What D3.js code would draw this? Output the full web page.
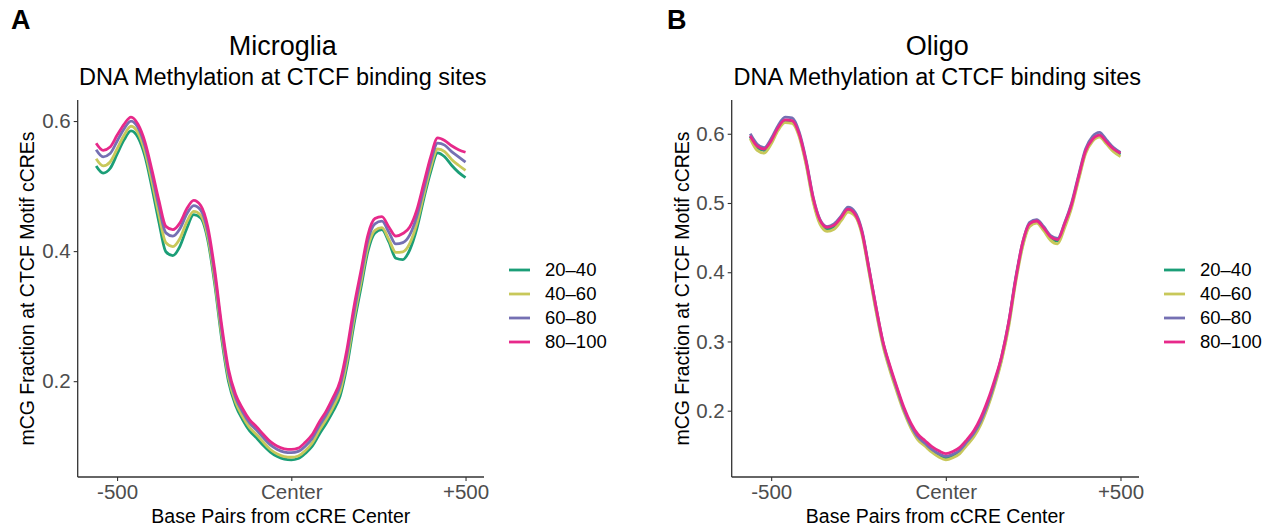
<!DOCTYPE html>
<html>
<head>
<meta charset="utf-8">
<script src="https://cdn.jsdelivr.net/npm/d3@7"></script>
<style>
  body { margin: 0; background: #fff; }
  svg { display: block; font-family: "Liberation Sans", Arial, sans-serif; }
</style>
</head>
<body>
<div id="chart"></div>
<script>
// base pairs from cCRE center (x positions shared by every series)
var bpOffsets = [-560, -540, -520, -500, -480, -460, -440, -420, -400, -380,
    -360, -340, -320, -300, -280, -260, -240, -220, -200, -180,
    -160, -140, -120, -100, -80, -60, -40, -20,
    0, 20, 40, 60, 80, 100, 120, 140, 160, 180,
    200, 220, 240, 260, 280, 300, 320, 340, 360, 380,
    400, 420, 440, 460, 480, 500];

var binLabels = ["20\u201340", "40\u201360", "60\u201380", "80\u2013100"];
var binColors = ["#1b9e77", "#c8c85a", "#7570b3", "#e7298a"];

var xTickValues = [-500, 0, 500];
var xTickLabels = ["-500", "Center", "+500"];

// Microglia
var microglia_20_40 = [0.531,0.520,0.527,0.549,0.571,0.585,0.575,0.546,0.498,0.445,
    0.399,0.393,0.407,0.435,0.456,0.451,0.418,0.350,0.266,0.199,
    0.163,0.141,0.124,0.113,0.101,0.091,0.084,0.080,
    0.079,0.081,0.089,0.100,0.118,0.135,0.154,0.177,0.224,0.288,
    0.344,0.400,0.428,0.433,0.414,0.389,0.387,0.402,0.434,0.480,
    0.522,0.551,0.545,0.532,0.521,0.513];
var microglia_40_60 = [0.542,0.531,0.537,0.557,0.578,0.592,0.582,0.553,0.507,0.456,
    0.413,0.407,0.419,0.445,0.461,0.455,0.423,0.356,0.272,0.205,
    0.168,0.146,0.129,0.118,0.106,0.095,0.088,0.084,
    0.083,0.085,0.093,0.105,0.124,0.141,0.160,0.184,0.232,0.296,
    0.352,0.407,0.432,0.436,0.418,0.398,0.399,0.412,0.442,0.486,
    0.528,0.557,0.553,0.541,0.532,0.524];
var microglia_60_80 = [0.556,0.545,0.550,0.569,0.588,0.600,0.590,0.562,0.518,0.469,
    0.428,0.423,0.434,0.457,0.470,0.463,0.431,0.365,0.280,0.212,
    0.175,0.153,0.136,0.125,0.113,0.102,0.095,0.091,
    0.090,0.092,0.100,0.112,0.131,0.148,0.168,0.193,0.242,0.306,
    0.362,0.417,0.442,0.446,0.429,0.411,0.413,0.425,0.453,0.495,
    0.537,0.566,0.563,0.553,0.545,0.537];
var microglia_80_100 = [0.566,0.555,0.560,0.578,0.595,0.606,0.595,0.568,0.525,0.478,
    0.438,0.433,0.443,0.465,0.478,0.470,0.438,0.372,0.287,0.218,
    0.180,0.158,0.141,0.130,0.118,0.107,0.100,0.096,
    0.095,0.097,0.106,0.118,0.137,0.154,0.175,0.200,0.250,0.315,
    0.370,0.425,0.450,0.453,0.437,0.423,0.427,0.437,0.463,0.504,
    0.545,0.574,0.570,0.562,0.556,0.552];

// Oligo
var oligo_20_40 = [0.596,0.580,0.576,0.588,0.608,0.619,0.618,0.599,0.558,0.505,
    0.472,0.462,0.466,0.477,0.490,0.483,0.457,0.403,0.347,0.297,
    0.261,0.230,0.201,0.178,0.161,0.152,0.143,0.136,
    0.132,0.135,0.141,0.153,0.165,0.183,0.208,0.239,0.276,0.325,
    0.389,0.440,0.469,0.473,0.463,0.449,0.445,0.468,0.497,0.536,
    0.574,0.591,0.597,0.587,0.576,0.570];
var oligo_40_60 = [0.593,0.576,0.572,0.585,0.605,0.616,0.615,0.596,0.555,0.502,
    0.469,0.459,0.462,0.474,0.487,0.481,0.454,0.400,0.344,0.294,
    0.258,0.227,0.198,0.175,0.158,0.149,0.140,0.133,
    0.129,0.132,0.138,0.150,0.162,0.180,0.205,0.236,0.273,0.321,
    0.385,0.437,0.466,0.471,0.460,0.446,0.441,0.464,0.493,0.533,
    0.571,0.589,0.595,0.585,0.574,0.567];
var oligo_60_80 = [0.600,0.585,0.580,0.593,0.612,0.624,0.623,0.603,0.562,0.509,
    0.476,0.466,0.470,0.481,0.494,0.487,0.460,0.406,0.350,0.299,
    0.263,0.232,0.202,0.179,0.162,0.153,0.144,0.138,
    0.134,0.137,0.143,0.155,0.167,0.185,0.210,0.241,0.279,0.328,
    0.392,0.443,0.472,0.476,0.466,0.453,0.449,0.471,0.500,0.540,
    0.578,0.596,0.602,0.591,0.580,0.573];
var oligo_80_100 = [0.597,0.582,0.578,0.590,0.609,0.620,0.619,0.600,0.560,0.508,
    0.475,0.465,0.468,0.479,0.491,0.484,0.458,0.405,0.350,0.300,
    0.265,0.234,0.205,0.182,0.166,0.157,0.148,0.142,
    0.138,0.141,0.147,0.158,0.171,0.190,0.215,0.245,0.279,0.328,
    0.390,0.443,0.470,0.474,0.464,0.451,0.447,0.470,0.498,0.538,
    0.575,0.592,0.598,0.588,0.578,0.572];

var yTicksMicroglia = [0.2, 0.4, 0.6];
var yTicksOligo = [0.2, 0.3, 0.4, 0.5, 0.6];

var svg = d3.select("#chart").append("svg")
    .attr("width", 1270)
    .attr("height", 532);

svg.append("rect").attr("width", 1270).attr("height", 532).attr("fill", "#fff");

drawPanel({
    tag: "A", tagX: 11,
    title: "Microglia",
    left: 77.7, right: 484, top: 100, bottom: 477,
    yTitleX: 27,
    series: [microglia_20_40, microglia_40_60, microglia_60_80, microglia_80_100],
    yTicks: yTicksMicroglia
});

drawPanel({
    tag: "B", tagX: 667,
    title: "Oligo",
    left: 731.7, right: 1139, top: 100, bottom: 477,
    yTitleX: 682,
    series: [oligo_20_40, oligo_40_60, oligo_60_80, oligo_80_100],
    yTicks: yTicksOligo
});

function drawPanel(p) {
    var g = svg.append("g");

    // ggplot style 5% expansion
    var xExt = d3.extent(bpOffsets);
    var xPad = (xExt[1] - xExt[0]) * 0.05;
    var allY = d3.merge(p.series);
    var yExt = d3.extent(allY);
    var yPad = (yExt[1] - yExt[0]) * 0.05;

    var x = d3.scaleLinear()
        .domain([xExt[0] - xPad, xExt[1] + xPad])
        .range([p.left, p.right]);
    var y = d3.scaleLinear()
        .domain([yExt[0] - yPad, yExt[1] + yPad])
        .range([p.bottom, p.top]);

    var cx = (p.left + p.right) / 2 + 2;

    g.append("text")
        .attr("x", p.tagX).attr("y", 29)
        .attr("font-size", 27).attr("font-weight", "bold")
        .attr("fill", "#000")
        .text(p.tag);

    g.append("text")
        .attr("x", cx).attr("y", 55)
        .attr("text-anchor", "middle")
        .attr("font-size", 27)
        .attr("fill", "#000")
        .text(p.title);

    g.append("text")
        .attr("x", cx).attr("y", 85)
        .attr("text-anchor", "middle")
        .attr("font-size", 23.5)
        .attr("fill", "#000")
        .text("DNA Methylation at CTCF binding sites");

    // lines
    var line = d3.line()
        .x(function(d, i) { return x(bpOffsets[i]); })
        .y(function(d) { return y(d); })
        .curve(d3.curveMonotoneX);

    g.append("g").selectAll("path")
        .data(p.series)
        .enter().append("path")
        .attr("d", line)
        .attr("fill", "none")
        .attr("stroke", function(d, i) { return binColors[i]; })
        .attr("stroke-width", 2.8)
        .attr("stroke-linejoin", "round")
        .attr("stroke-linecap", "butt");

    // axes
    var xAxis = g.append("g")
        .attr("transform", "translate(0," + p.bottom + ")")
        .call(d3.axisBottom(x)
            .tickValues(xTickValues)
            .tickFormat(function(d, i) { return xTickLabels[i]; })
            .tickSize(4).tickPadding(3)
            .tickSizeOuter(0));
    xAxis.select(".domain").attr("stroke", "#333").attr("stroke-width", 1.3)
        .attr("d", "M" + p.left + ",0H" + p.right);
    xAxis.selectAll(".tick line").attr("stroke", "#333").attr("stroke-width", 1.1);
    xAxis.selectAll(".tick text")
        .attr("fill", "#4d4d4d")
        .attr("font-size", 20.5)
        .attr("font-family", "Liberation Sans, Arial, sans-serif");

    var yAxis = g.append("g")
        .attr("transform", "translate(" + p.left + ",0)")
        .call(d3.axisLeft(y)
            .tickValues(p.yTicks)
            .tickFormat(d3.format(".1f"))
            .tickSize(4).tickPadding(3)
            .tickSizeOuter(0));
    yAxis.select(".domain").attr("stroke", "#333").attr("stroke-width", 1.3)
        .attr("d", "M0," + p.top + "V" + p.bottom);
    yAxis.selectAll(".tick line").attr("stroke", "#333").attr("stroke-width", 1.1);
    yAxis.selectAll(".tick text")
        .attr("fill", "#4d4d4d")
        .attr("font-size", 20.5)
        .attr("font-family", "Liberation Sans, Arial, sans-serif");

    // axis titles
    g.append("text")
        .attr("x", (p.left + p.right) / 2).attr("y", 523)
        .attr("text-anchor", "middle")
        .attr("font-size", 19.5)
        .attr("fill", "#000")
        .text("Base Pairs from cCRE Center");

    g.append("text")
        .attr("transform", "translate(" + p.yTitleX + "," + ((p.top + p.bottom) / 2) + ") rotate(-90)")
        .attr("text-anchor", "middle")
        .attr("dy", "0.35em")
        .attr("font-size", 19.5)
        .attr("fill", "#000")
        .text("mCG Fraction at CTCF Motif cCREs");

    // legend
    var legend = g.append("g")
        .attr("transform", "translate(" + (p.right + 25) + ",270)");
    var rows = legend.selectAll("g")
        .data(binLabels)
        .enter().append("g")
        .attr("transform", function(d, i) { return "translate(0," + (i * 24) + ")"; });
    rows.append("line")
        .attr("x1", 0).attr("x2", 21)
        .attr("stroke", function(d, i) { return binColors[i]; })
        .attr("stroke-width", 2.8);
    rows.append("text")
        .attr("x", 36).attr("dy", "0.35em")
        .attr("font-size", 18.5)
        .attr("fill", "#000")
        .text(function(d) { return d; });
}
</script>
</body>
</html>
